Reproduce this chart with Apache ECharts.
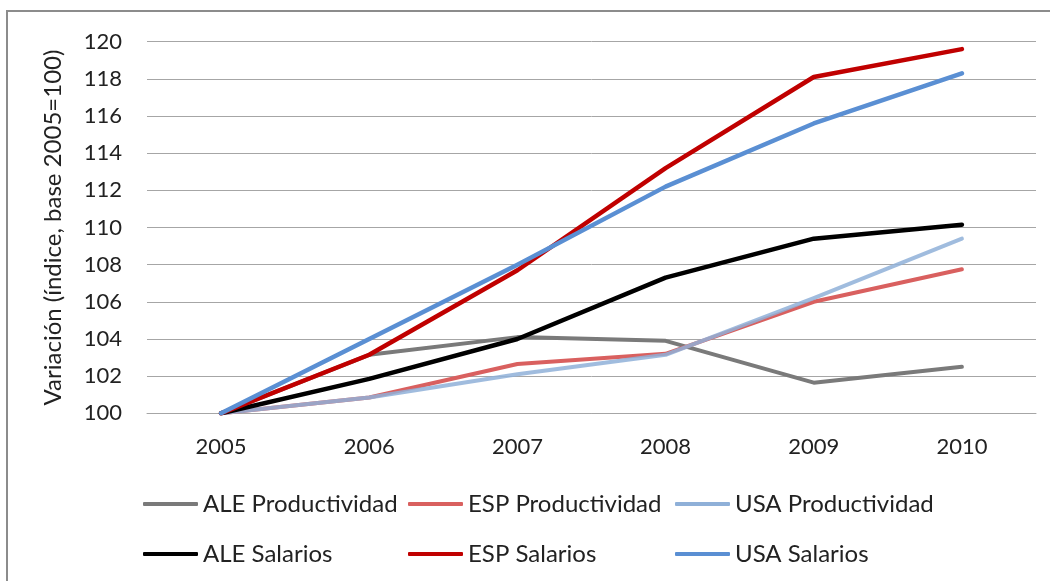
<!DOCTYPE html>
<html>
<head>
<meta charset="utf-8">
<script src="https://cdn.jsdelivr.net/npm/echarts@6/dist/echarts.min.js"></script>
<style>
  html, body { margin: 0; padding: 0; background: #ffffff; }
  #chart { width: 1050px; height: 581px; }
</style>
</head>
<body>
<div id="chart"></div>
<script>
// Years on the horizontal axis
const years = ['2005', '2006', '2007', '2008', '2009', '2010'];

// Index values (base 2005 = 100)
const aleProductividad = [100, 103.15, 104.1, 103.9, 101.65, 102.5];
const espProductividad = [100, 100.85, 102.65, 103.2, 106.0, 107.75];
const usaProductividad = [100, 100.85, 102.1, 103.15, 106.2, 109.4];
const aleSalarios = [100, 101.85, 104.0, 107.3, 109.4, 110.15];
const espSalarios = [100, 103.15, 107.7, 113.2, 118.1, 119.6];
const usaSalarios = [100, 104.0, 108.0, 112.2, 115.6, 118.3];

// Series names
const seriesNames = [
  'ALE Productividad', 'ESP Productividad', 'USA Productividad',
  'ALE Salarios', 'ESP Salarios', 'USA Salarios'
];

const FONT = 'Lato';
const TEXT_COLOR = '#222222';

const styles = [
  { color: '#7a7a7a', width: 4, opacity: 1 },
  { color: '#d9605f', width: 4, opacity: 1 },
  { color: '#8fb0d8', width: 4, opacity: 0.85 },
  { color: '#000000', width: 4.5, opacity: 1 },
  { color: '#c00000', width: 4.5, opacity: 1 },
  { color: '#5a8fd3', width: 4.5, opacity: 1 }
];
const values = [aleProductividad, espProductividad, usaProductividad,
                aleSalarios, espSalarios, usaSalarios];

const series = seriesNames.map((name, i) => ({
  name: name,
  type: 'line',
  data: values[i],
  symbol: 'none',
  color: styles[i].color,
  lineStyle: {
    color: styles[i].color,
    width: styles[i].width,
    opacity: styles[i].opacity,
    cap: 'round',
    join: 'round'
  },
  emphasis: { disabled: true },
  animation: false
}));

// Legend laid out as a 3x2 grid of single-item legends
const colX = [143, 408, 675];
const rowY = [492, 542];
const legends = seriesNames.map((name, i) => ({
  data: [name],
  left: colX[i % 3],
  top: rowY[Math.floor(i / 3)],
  icon: 'roundRect',
  itemWidth: 55,
  itemHeight: 4,
  padding: 0,
  selectedMode: false,
  textStyle: { fontFamily: FONT, fontSize: 24, color: TEXT_COLOR }
}));

const chart = echarts.init(document.getElementById('chart'), null, { renderer: 'canvas' });
chart.setOption({
  backgroundColor: '#ffffff',
  animation: false,
  grid: { left: 147, right: 14, top: 41.7, bottom: 167.7, containLabel: false },
  legend: legends,
  xAxis: {
    type: 'category',
    data: years,
    boundaryGap: true,
    axisLine: { show: true, lineStyle: { color: '#a6a6a6', width: 1 } },
    axisTick: { show: false },
    axisLabel: { fontFamily: FONT, fontSize: 22, color: TEXT_COLOR, margin: 23 }
  },
  yAxis: {
    type: 'value',
    min: 100,
    max: 120,
    interval: 2,
    name: 'Variación (índice, base 2005=100)',
    nameLocation: 'middle',
    nameGap: 82,
    nameTextStyle: { fontFamily: FONT, fontSize: 24, color: TEXT_COLOR },
    axisLine: { show: false },
    axisTick: { show: false },
    axisLabel: { fontFamily: FONT, fontSize: 22, color: TEXT_COLOR, margin: 25 },
    splitLine: { show: true, lineStyle: { color: '#a6a6a6', width: 1 } }
  },
  graphic: [{
    type: 'rect',
    shape: { x: 7, y: 11, width: 1200, height: 800 },
    style: { fill: null, stroke: '#8c8c8c', lineWidth: 2 },
    silent: true,
    z: -1
  }],
  series: series
});
</script>
</body>
</html>
